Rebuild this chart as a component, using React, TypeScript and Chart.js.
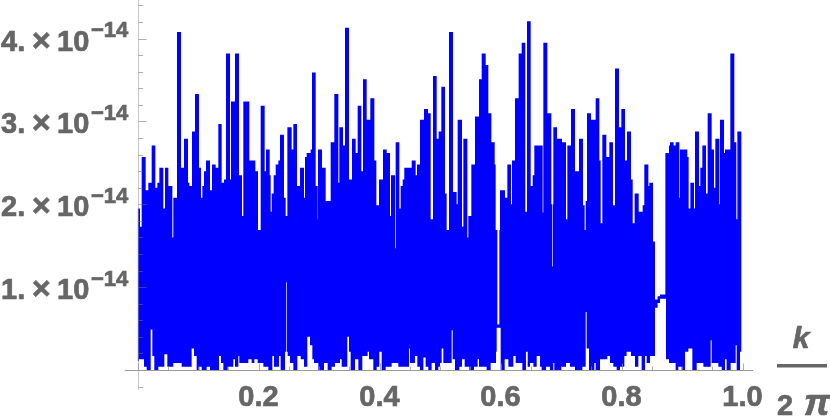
import React, { useEffect, useRef } from "react";
import { Chart, registerables } from "chart.js";

Chart.register(...registerables);

const upperK = [0,.0041,.0069,.0135,.0179,.0234,.0295,.0328,.0361,.0427,.0455,.0510,.0576,.0592,.0653,.0719,.0769,.0835,.0857,.0901,.0950,.1017,.1050,.1072,.1099,.1132,.1198,.1231,.1292,.1336,.1391,.1430,.1463,.1529,.1545,.1612,.1678,.1727,.1749,.1848,.1948,.1992,.2036,.2102,.2124,.2185,.2201,.2218,.2251,.2284,.2328,
.2355,.2421,.2449,.2477,.2548,.2576,.2636,.2686,.2752,.2769,.2796,.2862,.2884,.2945,.2978,.2983,.3050,.3110,.3193,.3253,.3320,.3336,.3397,.3430,.3496,.3545,.3606,.3639,.3700,.3727,.3788,.3848,.3915,.3948,.3992,.4058,.4119,.4174,.4190,.4256,.4267,.4328,.4350,.4383,.4410,.4532,.4598,.4620,.4669,.4736,.4802,.4846,.4884,.4945,.4978,.5022,.5083,.5110,.5149,.5215,.5275,.5292,.5364,.5386,.5452,.5468,.5518,.5579,.5645,.5689,.5755,.5799,.5849,.5904,.5920,.5948,.5981,.5992,.6074,.6113,.6174,.6190,.6240,.6300,.6350,.6410,.6438,.6499,.6532,.6559,.6631,.6697,.6708,.6774,.6840,.6851,.6862,.6873,.6934,
.6983,.7017,.7083,.7105,.7165,.7231,.7298,.7364,.7391,.7408,.7430,.7496,.7573,.7634,.7656,.7683,.7749,.7799,.7860,.7893,.7959,.7997,.8058,.8091,.8157,.8185,.8217,.8284,.8350,.8377,.8444,.8460,.8521,.8554,.8597,.8636,.8725,.8785,.8802,.8862,.8895,.8956,.8967,.9088,.9110,.9138,.9198,.9215,.9281,.9303,.9336,.9397,.9424,.9490,.9529,.9551,.9617,.9628,.9694,.9711,.9799,.9865,.9898,.9915,.9985];

const upperValues = [1.95,1.73,2.57,2.17,2.26,2.71,2.20,2.26,2.44,1.95,2.44,2.22,1.60,2.08,4.08,2.44,2.79,2.26,2.22,2.88,3.33,2.44,2.08,2.22,2.40,2.53,2.17,2.48,2.44,2.97,2.26,2.30,3.82,2.30,3.24,3.82,2.35,1.86,3.24,2.53,2.40,1.69,3.19,2.40,2.66,2.35,1.91,2.13,2.35,2.48,2.53,
2.84,2.08,1.86,2.93,2.66,2.97,2.22,2.44,2.08,2.57,2.62,2.66,3.59,2.22,1.82,2.66,2.44,2.04,2.75,3.33,2.26,2.93,2.71,4.13,2.30,2.79,2.62,3.19,2.40,3.51,3.02,3.28,2.53,1.99,2.30,2.66,2.62,1.86,2.35,1.47,2.75,1.95,2.22,2.30,2.44,2.53,2.35,2.48,3.02,3.15,3.10,1.82,3.55,2.79,2.88,3.42,2.13,1.69,4.08,2.15,2.00,3.02,1.73,2.79,1.60,1.86,2.48,3.06,3.51,3.82,3.68,3.10,2.75,2.48,1.69,0.55,1.69,2.17,2.08,2.48,2.00,2.53,3.28,3.82,3.95,1.91,4.21,2.22,2.35,2.71,2.71,1.90,3.95,3.10,2.00,1.25,2.00,2.93,2.79,
2.79,2.75,1.82,2.71,3.15,2.40,2.79,1.99,1.69,2.04,3.10,3.02,3.28,2.53,1.77,2.84,2.57,2.75,1.99,3.64,2.93,3.15,2.53,2.88,2.30,1.77,2.13,1.91,1.99,2.48,2.22,2.26,1.55,0.85,0.89,0.91,2.62,2.71,2.75,2.71,2.75,2.08,2.66,2.57,1.95,2.26,1.95,2.88,2.22,2.44,2.71,2.13,3.10,2.66,2.20,2.79,2.00,3.02,2.62,2.66,3.82,2.75,1.82,2.88,2.88];

const lowerK = [0,.0025,.0107,.0152,.0218,.0245,.0278,.0344,.0444,.0493,.0592,.0730,.0895,.0934,.0978,.1022,.1061,.1143,.1198,.1347,.1380,.1419,.1490,.1584,.1612,.1667,.1683,.1832,.1887,.1931,.1986,.2080,.2163,.2229,.2256,.2339,.2366,.2438,.2455,.2466,.2482,.2521,.2576,.2642,.2697,.2752,.2807,.2851,.2890,.2917,.2989,.3083,.3143,.3209,.3264,.3347,
.3375,.3468,.3496,.3523,.3595,.3650,.3716,.3804,.3826,.3898,.3953,.3997,.4036,.4102,.4201,.4311,.4488,.4504,.4587,.4625,.4669,.4725,.4763,.4807,.4862,.4917,.4972,.5000,.5028,.5055,.5193,.5209,.5248,.5320,.5364,.5408,.5485,.5562,.5623,.5645,.5771,.5837,.5926,.5937,.6003,.6069,.6130,.6212,.6251,.6361,.6421,.6449,.6488,.6543,.6598,.6653,.6680,
.6752,.6818,.6873,.6890,.7000,.7083,.7149,.7231,.7353,.7408,.7424,.7463,.7551,.7573,.7645,.7766,.7810,.7865,.7920,.7975,.8047,.8085,.8157,.8223,.8278,.8333,.8388,.8416,.8471,.8554,.8597,.8636,.8736,.8785,.8895,.8939,.8994,.9050,.9105,.9171,.9243,.9353,.9474,.9490,.9601,.9656,.9711,.9738,.9804,.9887,.9904,.9959,.9985];

const lowerValues = [.11,.13,.04,0,.49,.17,0,.04,.19,.04,.084,.04,.26,.17,0,.04,0,.04,0,.17,.084,0,.04,.13,.04,.17,.084,.13,.084,.13,.084,.04,0,.17,.04,.17,0,.22,1.06,.22,.17,.084,0,.17,.13,.04,.40,.30,.13,.084,0,.084,0,.04,.084,.13,
.04,.40,.22,0,.13,0,.17,.22,.13,0,.04,.22,0,.04,.084,.04,.26,.084,.17,.04,0,.15,.04,0,.084,0,.04,.084,.26,.084,.48,.13,0,.04,.13,.04,0,.04,.13,.04,0,.084,.22,.51,0,.13,.04,.17,.084,0,.22,.04,.084,.04,.17,.04,0,
.04,0,.084,0,.04,.084,.04,0,.04,.70,.26,0,.084,0,.13,.17,.084,.04,0,.04,.17,.22,.17,.04,.17,0,.17,.084,.17,.75,.81,.86,.13,.084,0,.04,0,.22,.26,0,.084,.04,.36,.084,.04,0,.13,0,.084,.30,0,.22,.22];

const xRange = [0, 1];
const yRange = [0, 4.466];
const yMajorTicks = [1, 2, 3, 4];
const yLabelHeads = ["1.", "2.", "3.", "4."];
const yMinorTicks = [-0.2, 0.2, 0.4, 0.6, 0.8, 1.2, 1.4, 1.6, 1.8, 2.2, 2.4, 2.6, 2.8, 3.2, 3.4, 3.6, 3.8, 4.2, 4.4];
const xMajorTicks = [0, 0.2, 0.4, 0.6, 0.8, 1];
const xMinorTicks = [0.05, 0.1, 0.15, 0.25, 0.3, 0.35, 0.45, 0.5, 0.55, 0.65, 0.7, 0.75, 0.85, 0.9, 0.95];

const FONT = '"Liberation Sans"';
const TEXT = "#666666";

const axesPlugin = {
  id: "mathematicaAxes",
  afterDatasetsDraw(chart: any) {
    const { ctx, scales } = chart;
    const x = scales.x;
    const y = scales.y;
    const x0 = Math.round(x.getPixelForValue(0)) + 0.5;
    const y0 = Math.round(y.getPixelForValue(0)) + 0.5;
    ctx.save();
    // y axis
    ctx.lineWidth = 1;
    ctx.strokeStyle = "rgba(150,150,150,0.55)";
    ctx.beginPath();
    ctx.moveTo(x0, 0);
    ctx.lineTo(x0, 390);
    ctx.stroke();
    const yTick = (v: number, len: number) => {
      const py = Math.round(y.getPixelForValue(v)) + 0.5;
      ctx.beginPath();
      ctx.moveTo(x0, py);
      ctx.lineTo(x0 + len, py);
      ctx.stroke();
    };
    ctx.strokeStyle = "rgba(110,110,110,0.55)";
    yMinorTicks.forEach((v) => yTick(v, 4.5));
    yMajorTicks.forEach((v) => yTick(v, 8));
    // x axis
    ctx.strokeStyle = "#9a9a9a";
    ctx.beginPath();
    ctx.moveTo(125, y0);
    ctx.lineTo(753, y0);
    ctx.stroke();
    const xTick = (v: number, len: number) => {
      const px = Math.round(x.getPixelForValue(v)) + 0.5;
      ctx.beginPath();
      ctx.moveTo(px, y0);
      ctx.lineTo(px, y0 - len);
      ctx.stroke();
    };
    ctx.strokeStyle = "rgba(140,140,140,0.7)";
    xMinorTicks.forEach((v) => xTick(v, 4));
    xMajorTicks.forEach((v) => xTick(v, 7));

    // text is thickened a little to match the heavy look of the reference
    const heavy = (s: string, px: number, py: number, w = 0.7) => {
      ctx.fillText(s, px, py);
      ctx.strokeText(s, px, py);
    };
    ctx.fillStyle = TEXT;
    ctx.strokeStyle = TEXT;
    ctx.lineWidth = 0.7;
    ctx.textAlign = "left";
    ctx.textBaseline = "alphabetic";
    yMajorTicks.forEach((v, i) => {
      const py = y.getPixelForValue(v);
      ctx.font = `bold 29px ${FONT}`;
      heavy(yLabelHeads[i], 1, py + 12);
      ctx.font = `bold 32px ${FONT}`;
      heavy("×", 32, py + 12);
      ctx.font = `bold 29px ${FONT}`;
      heavy("10", 57, py + 12);
      ctx.font = `bold 22px ${FONT}`;
      heavy("−14", 91, py - 1.5);
    });

    // x axis title as a fraction
    ctx.font = `italic bold 30px ${FONT}`;
    ctx.textAlign = "center";
    heavy("k", 801, 348);
    ctx.fillRect(777, 364, 50, 3.5);
    ctx.textAlign = "left";
    ctx.font = `bold 29px ${FONT}`;
    heavy("2", 777, 415);
    ctx.font = `italic bold 37px ${FONT}`;
    heavy("π", 804, 415);
    ctx.restore();
  },
};

export default function App() {
  const ref = useRef<HTMLCanvasElement>(null);
  useEffect(() => {
    document.body.style.margin = "0";
    const chart = new Chart(ref.current as HTMLCanvasElement, {
      type: "scatter",
      data: {
        datasets: [
          {
            label: "upper",
            data: upperK.map((k, i) => ({ x: k, y: upperValues[i] })),
            showLine: true,
            stepped: true,
            borderWidth: 0,
            borderColor: "rgba(0,0,255,0)",
            backgroundColor: "rgb(0,0,255)",
            pointRadius: 0,
            fill: "+1",
          },
          {
            label: "lower",
            data: lowerK.map((k, i) => ({ x: k, y: lowerValues[i] })),
            showLine: true,
            stepped: true,
            borderWidth: 0,
            borderColor: "rgba(0,0,255,0)",
            pointRadius: 0,
            fill: false,
          },
        ],
      } as any,
      options: {
        responsive: false,
        animation: false,
        layout: { padding: { left: 137.5, right: 87.5, top: 0, bottom: 0 } },
        plugins: { legend: { display: false }, tooltip: { enabled: false } },
        scales: {
          x: {
            type: "linear",
            min: xRange[0],
            max: xRange[1],
            grid: { display: false },
            border: { display: false },
            afterFit: (s: any) => {
              s.height = 48;
            },
            ticks: {
              stepSize: 0.2,
              maxRotation: 0,
              autoSkip: false,
              padding: 3,
              color: TEXT,
              textStrokeColor: TEXT,
              textStrokeWidth: 0.7,
              font: { family: "Liberation Sans", weight: "bold", size: 29 },
              callback: (v: any) => (Number(v) === 0 ? "" : Number(v).toFixed(1)),
            },
          },
          y: { type: "linear", display: false, min: yRange[0], max: yRange[1] },
        },
      } as any,
      plugins: [axesPlugin],
    });
    return () => chart.destroy();
  }, []);
  return (
    <canvas
      ref={ref}
      width={830}
      height={418}
      style={{ display: "block", position: "absolute", left: 0, top: 0, width: 830, height: 418 }}
    />
  );
}
